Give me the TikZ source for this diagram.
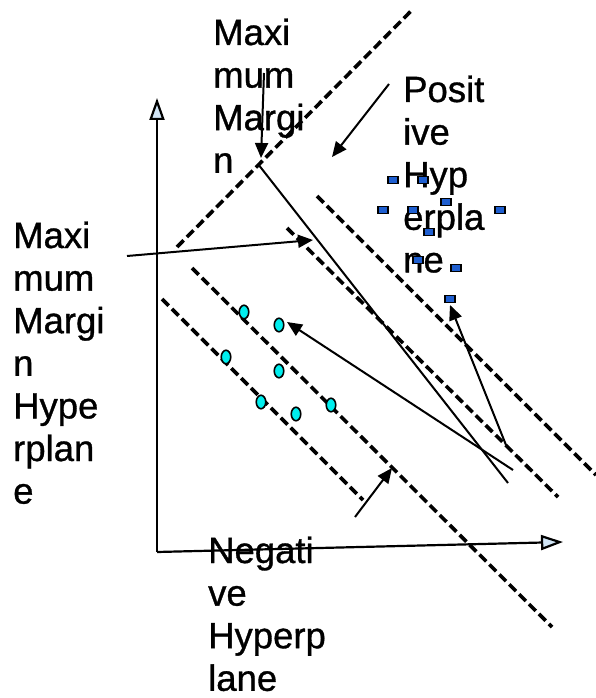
\documentclass[tikz,border=0pt]{standalone}
\usepackage{fontspec}
\setmainfont{Liberation Sans}
\newfontfamily\lblfont[FakeBold=0.9]{Liberation Sans}
\usetikzlibrary{arrows.meta,shapes.geometric}
\definecolor{axisblue}{HTML}{D0E4F5}
\definecolor{posblue}{HTML}{1F5FD0}
\definecolor{negcyan}{HTML}{00EEEE}
\newcommand{\stacklines}[1]{\vtop{\baselineskip=42.6pt\halign{##\hfil\cr#1\crcr}}}
\begin{document}
\begin{tikzpicture}[x=1pt,y=-1pt,
  lbl/.style={anchor=base west, inner sep=0pt, font=\lblfont\fontsize{36.5}{42.6}\selectfont},
  hyper/.style={line width=3.6pt, dash pattern=on 9.5pt off 4.5pt},
  conn/.style={line width=2pt},
  pointer/.style={line width=2pt, -{Triangle[length=15pt,width=13pt]}},
  axis/.style={line width=2.2pt, -{Triangle[length=22pt,width=15pt,fill=axisblue]}},
  pospt/.style={rectangle, draw=black, fill=posblue, line width=1.6pt, minimum width=10.5pt, minimum height=7pt, inner sep=0pt},
  negpt/.style={ellipse, draw=black, fill=negcyan, line width=1.6pt, minimum width=9.5pt, minimum height=13.5pt, inner sep=0pt}]
\useasboundingbox (0,0) rectangle (596,698);
% labels
\node[lbl] (tMM) at (213,45) {\stacklines{Maxi\cr mum\cr Margi\cr n}};
\node[lbl] (tMMH) at (13,248) {\stacklines{Maxi\cr mum\cr Margi\cr n\cr Hype\cr rplan\cr e}};
\node[lbl] (tPH) at (403,102) {\stacklines{Posit\cr ive\cr Hyp\cr erpla\cr ne}};
\node[lbl] (tNH) at (208,563) {\stacklines{Negati\cr ve\cr Hyperp\cr lane}};
% coordinates
\coordinate (O) at (157,552);
\coordinate (Ytop) at (157,98);
\coordinate (Xend) at (563,542);
\coordinate (h1a) at (177,247); \coordinate (h1b) at (413,9);
\coordinate (h2a) at (317,196); \coordinate (h2b) at (596,475);
\coordinate (h3a) at (287,228); \coordinate (h3b) at (558,497);
\coordinate (h4a) at (192,268); \coordinate (h4b) at (552,627);
\coordinate (h5a) at (162,299); \coordinate (h5b) at (363,500);
\coordinate (s1a) at (258,164); \coordinate (s1b) at (508,483);
\coordinate (a1s) at (264,73);  \coordinate (a1e) at (261,158);
\coordinate (a2s) at (389,84);  \coordinate (a2e) at (332,157);
\coordinate (a3s) at (127,256); \coordinate (a3e) at (313,240);
\coordinate (a4s) at (513,470); \coordinate (a4e) at (287,322);
\coordinate (a5s) at (506,445); \coordinate (a5e) at (450,305);
\coordinate (a6s) at (355,517); \coordinate (a6e) at (392,468);
% axes
\draw[axis] (O) -- (Ytop);
\draw[axis] (O) -- (Xend);
% hyperplanes
\draw[hyper] (h1a) -- (h1b);
\draw[hyper] (h2a) -- (h2b);
\draw[hyper] (h3a) -- (h3b);
\draw[hyper] (h4a) -- (h4b);
\draw[hyper] (h5a) -- (h5b);
% solid line and pointers
\draw[conn] (s1a) -- (s1b);
\draw[pointer] (a1s) -- (a1e);
\draw[pointer] (a2s) -- (a2e);
\draw[pointer] (a3s) -- (a3e);
\draw[pointer] (a4s) -- (a4e);
\draw[pointer] (a5s) -- (a5e);
\draw[pointer] (a6s) -- (a6e);
% positive points
\node[pospt] (p1) at (393,180) {};
\node[pospt] (p2) at (423,180) {};
\node[pospt] (p3) at (383,210) {};
\node[pospt] (p4) at (413,210) {};
\node[pospt] (p5) at (446,202) {};
\node[pospt] (p6) at (500,210) {};
\node[pospt] (p7) at (429,232) {};
\node[pospt] (p8) at (418,260) {};
\node[pospt] (p9) at (456,268) {};
\node[pospt] (p10) at (450,299) {};
% negative points
\node[negpt] (n1) at (244,312) {};
\node[negpt] (n2) at (279,325) {};
\node[negpt] (n3) at (226,357) {};
\node[negpt] (n4) at (279,371) {};
\node[negpt] (n5) at (261,402) {};
\node[negpt] (n6) at (296,414) {};
\node[negpt] (n7) at (331,405) {};
\end{tikzpicture}
\end{document}
